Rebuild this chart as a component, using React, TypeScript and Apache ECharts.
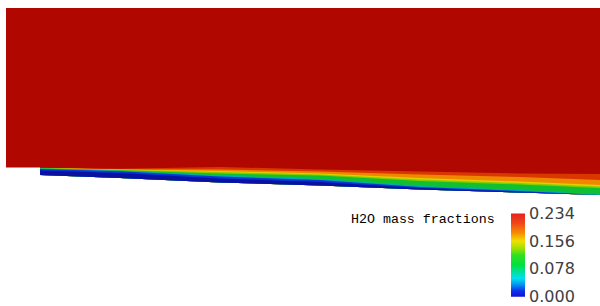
import React, { useEffect, useRef } from "react";
import * as echarts from "echarts";

// Stations along the plate (axis units) and wall (plate surface) height
const stationX = [34, 114, 214, 314, 414, 514, 594];
const wallY = [-7, -10, -14.5, -17.5, -21.5, -24.5, -27];

// Mass fraction of each colour band in the boundary layer (bottom to top)
const bandValues = [0, 0.029, 0.059, 0.088, 0.117, 0.146, 0.176, 0.205];
const freeStreamValue = 0.234;

// Height above the wall of the top of each band, per station
const bandTops = [
  [4.5, 5, 4, 3.5, 1.5, 0.5, 0],
  [6, 6.8, 6, 5.5, 2.5, 1.5, 0],
  [6.5, 7.3, 7, 6.5, 3.5, 2.5, 0.5],
  [6.8, 7.8, 9, 10, 8.5, 8, 7],
  [7, 8.2, 10.5, 11, 10, 9.5, 8.5],
  [7, 8.5, 11.5, 12, 11.5, 11, 10],
  [7, 8.8, 13, 14, 15, 15.5, 15],
  [7.2, 9.3, 15.5, 16, 18, 19, 21],
];

// Colour bar tick labels
const colorbarTicks = ["0.000", "0.078", "0.156", "0.234"];
const colorbarTitle = "H2O mass fractions";

const fieldColors = [
  "#0a10a0",
  "#0038d8",
  "#00a8c8",
  "#10c030",
  "#88cc00",
  "#e0d000",
  "#f08800",
  "#d83800",
  "#b00800",
];

export default function App() {
  const ref = useRef<HTMLDivElement>(null);
  useEffect(() => {
    if (!ref.current) return;
    const chart = echarts.init(ref.current, undefined, { renderer: "svg" });

    const bandOrder = bandValues.map((_, k) => k).reverse();

    const option: any = {
      animation: false,
      backgroundColor: "#ffffff",
      grid: [
        { left: 6, top: 8, width: 594, height: 190 },
        { left: 511, top: 213.5, width: 14, height: 83.2 },
      ],
      xAxis: [
        { type: "value", gridIndex: 0, min: 0, max: 594, show: false },
        { type: "value", gridIndex: 1, min: 0, max: 1, show: false },
      ],
      yAxis: [
        { type: "value", gridIndex: 0, min: -30, max: 160, show: false },
        {
          type: "value",
          gridIndex: 1,
          min: 0,
          max: colorbarTicks.length - 1,
          interval: 1,
          position: "right",
          axisLine: { show: false },
          axisTick: { show: false },
          splitLine: { show: false },
          axisLabel: {
            margin: 4,
            fontFamily: "DejaVu Sans",
            fontSize: 16,
            color: "#404040",
            formatter: (v: number) => colorbarTicks[Math.round(v)],
          },
        },
      ],
      visualMap: {
        type: "continuous",
        show: false,
        min: 0,
        max: freeStreamValue,
        dimension: 1,
        seriesIndex: [0, 1],
        inRange: { color: fieldColors },
      },
      graphic: [
        {
          type: "text",
          left: 351,
          top: 213,
          style: {
            text: colorbarTitle,
            font: '13.3px "Liberation Mono"',
            fill: "#000000",
          },
        },
      ],
      series: [
        {
          type: "custom",
          xAxisIndex: 0,
          yAxisIndex: 0,
          data: [[0, freeStreamValue]],
          renderItem: (params: any, api: any) => {
            const pts: number[][] = [];
            pts.push(api.coord([0, 160]));
            pts.push(api.coord([594, 160]));
            for (let i = stationX.length - 1; i >= 0; i--) {
              pts.push(api.coord([stationX[i], wallY[i]]));
            }
            pts.push(api.coord([stationX[0], 0.5]));
            pts.push(api.coord([0, 0.5]));
            return {
              type: "polygon",
              shape: { points: pts },
              style: { fill: api.visual("color") },
            };
          },
        },
        {
          type: "custom",
          xAxisIndex: 0,
          yAxisIndex: 0,
          data: bandOrder.map((k) => [k, bandValues[k]]),
          renderItem: (params: any, api: any) => {
            const k = api.value(0);
            const pts: number[][] = [];
            for (let i = 0; i < stationX.length; i++) {
              pts.push(api.coord([stationX[i], wallY[i]]));
            }
            for (let i = stationX.length - 1; i >= 0; i--) {
              pts.push(api.coord([stationX[i], wallY[i] + bandTops[k][i]]));
            }
            return {
              type: "polygon",
              shape: { points: pts },
              style: { fill: api.visual("color") },
            };
          },
        },
        {
          type: "custom",
          xAxisIndex: 1,
          yAxisIndex: 1,
          data: [[0, 0]],
          renderItem: (params: any, api: any) => {
            const p0 = api.coord([0, colorbarTicks.length - 1]);
            const p1 = api.coord([1, 0]);
            return {
              type: "rect",
              shape: {
                x: p0[0],
                y: p0[1],
                width: p1[0] - p0[0],
                height: p1[1] - p0[1],
              },
              style: {
                fill: new echarts.graphic.LinearGradient(0, 0, 0, 1, [
                  { offset: 0, color: "#e82020" },
                  { offset: 0.12, color: "#f04818" },
                  { offset: 0.24, color: "#f89000" },
                  { offset: 0.33, color: "#f0e000" },
                  { offset: 0.42, color: "#a0e000" },
                  { offset: 0.5, color: "#30e020" },
                  { offset: 0.62, color: "#00e040" },
                  { offset: 0.72, color: "#00e0b0" },
                  { offset: 0.78, color: "#00e0f0" },
                  { offset: 0.86, color: "#0090f0" },
                  { offset: 0.93, color: "#1030e8" },
                  { offset: 1, color: "#1010d8" },
                ]),
              },
            };
          },
        },
      ],
    };
    chart.setOption(option);
    return () => chart.dispose();
  }, []);

  return (
    <div
      ref={ref}
      style={{ position: "fixed", left: 0, top: 0, width: 600, height: 306 }}
    />
  );
}
